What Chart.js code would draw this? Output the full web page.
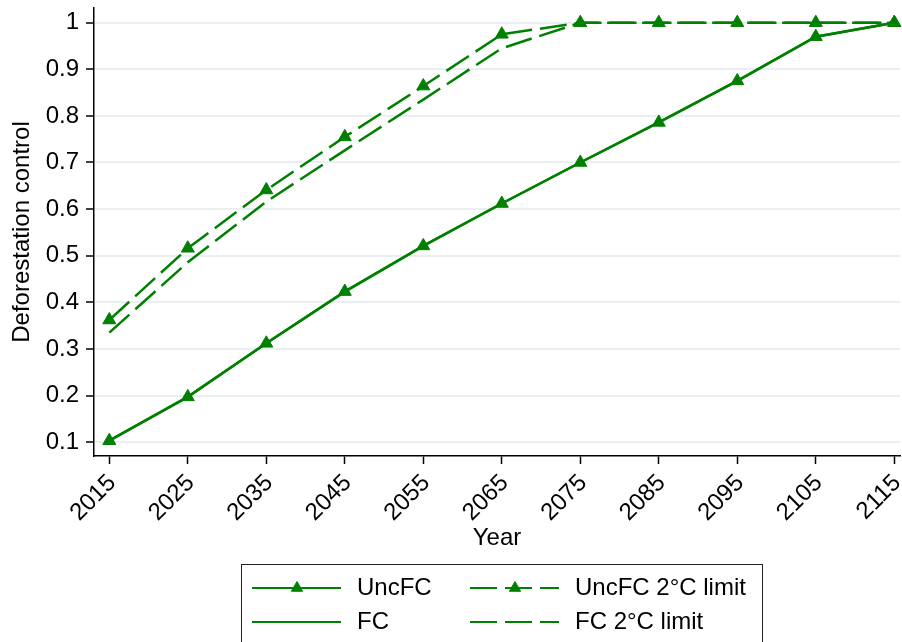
<!DOCTYPE html>
<html>
<head>
<meta charset="utf-8">
<script src="https://cdn.jsdelivr.net/npm/chart.js@4/dist/chart.umd.min.js"></script>
<style>
  html, body { margin: 0; padding: 0; background: #ffffff; }
  #wrap { width: 902px; height: 642px; }
</style>
</head>
<body>
<div id="wrap"><canvas id="c" width="902" height="642"></canvas></div>
<script>
// Deforestation control paths, 2015-2115
const years = [2015, 2025, 2035, 2045, 2055, 2065, 2075, 2085, 2095, 2105, 2115];
const uncFC   = [0.103, 0.197, 0.312, 0.423, 0.521, 0.612, 0.700, 0.786, 0.875, 0.970, 1.000];
const fc      = [0.103, 0.197, 0.312, 0.423, 0.521, 0.612, 0.700, 0.786, 0.875, 0.970, 1.000];
const uncFC2C = [0.362, 0.516, 0.641, 0.755, 0.864, 0.975, 1.000, 1.000, 1.000, 1.000, 1.000];
const fc2C    = [0.335, 0.486, 0.616, 0.726, 0.835, 0.945, 1.000, 1.000, 1.000, 1.000, 1.000];
const yTicks  = [0.1, 0.2, 0.3, 0.4, 0.5, 0.6, 0.7, 0.8, 0.9, 1];
const labels  = ['UncFC', 'FC', 'UncFC 2°C limit', 'FC 2°C limit'];

const GREEN = '#008000';
const FONT = '"Liberation Sans", Arial, Helvetica, sans-serif';
const DASH = [27, 8];

const toPoints = (vals) => years.map((x, i) => ({ x: x, y: vals[i] }));

function series(label, vals, dashed, markers) {
  return {
    label: label,
    data: toPoints(vals),
    borderColor: GREEN,
    backgroundColor: GREEN,
    borderWidth: 2.5,
    borderDash: dashed ? DASH : [],
    pointStyle: 'triangle',
    pointRadius: markers ? 7.5 : 0,
    pointBackgroundColor: GREEN,
    pointBorderColor: GREEN,
    pointBorderWidth: 1,
    tension: 0,
    fill: false,
    clip: false
  };
}

// Two-column boxed key under the plot
const keyBox = {
  id: 'keyBox',
  afterDraw(chart) {
    const ctx = chart.ctx;
    ctx.save();
    ctx.strokeStyle = '#222222';
    ctx.lineWidth = 1;
    ctx.setLineDash([]);
    ctx.strokeRect(241.5, 564.5, 521, 100);
    const slots = [
      { ds: 0, x: 252, y: 588 },
      { ds: 2, x: 470, y: 588 },
      { ds: 1, x: 252, y: 622 },
      { ds: 3, x: 470, y: 622 }
    ];
    slots.forEach((s) => {
      const ds = chart.data.datasets[s.ds];
      ctx.strokeStyle = ds.borderColor;
      ctx.lineWidth = 2;
      ctx.setLineDash(ds.borderDash || []);
      ctx.beginPath();
      ctx.moveTo(s.x, s.y);
      ctx.lineTo(s.x + 89, s.y);
      ctx.stroke();
      ctx.setLineDash([]);
      if (ds.pointRadius > 0) {
        ctx.fillStyle = ds.pointBackgroundColor;
        ctx.strokeStyle = ds.pointBorderColor;
        ctx.lineWidth = 1;
        Chart.helpers.drawPoint(ctx, { pointStyle: 'triangle', radius: 6.5, borderWidth: 1, rotation: 0 }, s.x + 45, s.y);
      }
      ctx.fillStyle = '#000000';
      ctx.font = '24px ' + FONT;
      ctx.textAlign = 'left';
      ctx.textBaseline = 'middle';
      ctx.fillText(ds.label, s.x + 105, s.y);
    });
    ctx.restore();
  }
};

new Chart(document.getElementById('c'), {
  type: 'line',
  data: {
    datasets: [
      series(labels[0], uncFC, false, true),
      series(labels[1], fc, false, false),
      series(labels[2], uncFC2C, true, true),
      series(labels[3], fc2C, true, false)
    ]
  },
  plugins: [keyBox],
  options: {
    responsive: false,
    devicePixelRatio: 1,
    animation: false,
    events: [],
    layout: { autoPadding: false, padding: { left: 0, right: 2, top: 8, bottom: 89 } },
    plugins: {
      legend: { display: false },
      tooltip: { enabled: false }
    },
    scales: {
      x: {
        type: 'linear',
        min: 2013.05,
        max: 2115.73,
        afterBuildTicks: (scale) => { scale.ticks = years.map((v) => ({ value: v })); },
        afterFit: (scale) => {
          scale.height = 97;
          scale.paddingLeft = 0; scale.paddingRight = 0;
          scale.paddingTop = 0; scale.paddingBottom = 0;
        },
        ticks: {
          autoSkip: false,
          minRotation: 45,
          maxRotation: 45,
          padding: 5,
          labelOffset: 3,
          color: '#000000',
          font: { family: FONT, size: 24 },
          callback: (v) => String(v)
        },
        grid: {
          drawOnChartArea: false,
          drawTicks: true,
          tickLength: 8,
          tickColor: '#000000',
          tickWidth: 1.5
        },
        border: { display: true, color: '#000000', width: 1.5 },
        title: {
          display: true,
          text: 'Year',
          color: '#000000',
          font: { family: FONT, size: 24 },
          padding: { top: 0, bottom: 0 }
        }
      },
      y: {
        type: 'linear',
        min: 0.0702,
        max: 1.0315,
        afterBuildTicks: (scale) => { scale.ticks = yTicks.map((v) => ({ value: v })); },
        afterFit: (scale) => {
          scale.width = 94;
          scale.paddingTop = 0; scale.paddingBottom = 0;
          scale.paddingLeft = 0; scale.paddingRight = 0;
        },
        ticks: {
          padding: 7,
          color: '#000000',
          font: { family: FONT, size: 24 },
          callback: (v) => String(v)
        },
        grid: {
          color: '#e9eff2',
          lineWidth: 2,
          drawTicks: true,
          tickLength: 8,
          tickColor: '#000000',
          tickWidth: 1.5
        },
        border: { display: true, color: '#000000', width: 1.5 },
        title: {
          display: true,
          text: 'Deforestation control',
          color: '#000000',
          font: { family: FONT, size: 24 },
          padding: { top: 8, bottom: 0 }
        }
      }
    }
  }
});
</script>
</body>
</html>
